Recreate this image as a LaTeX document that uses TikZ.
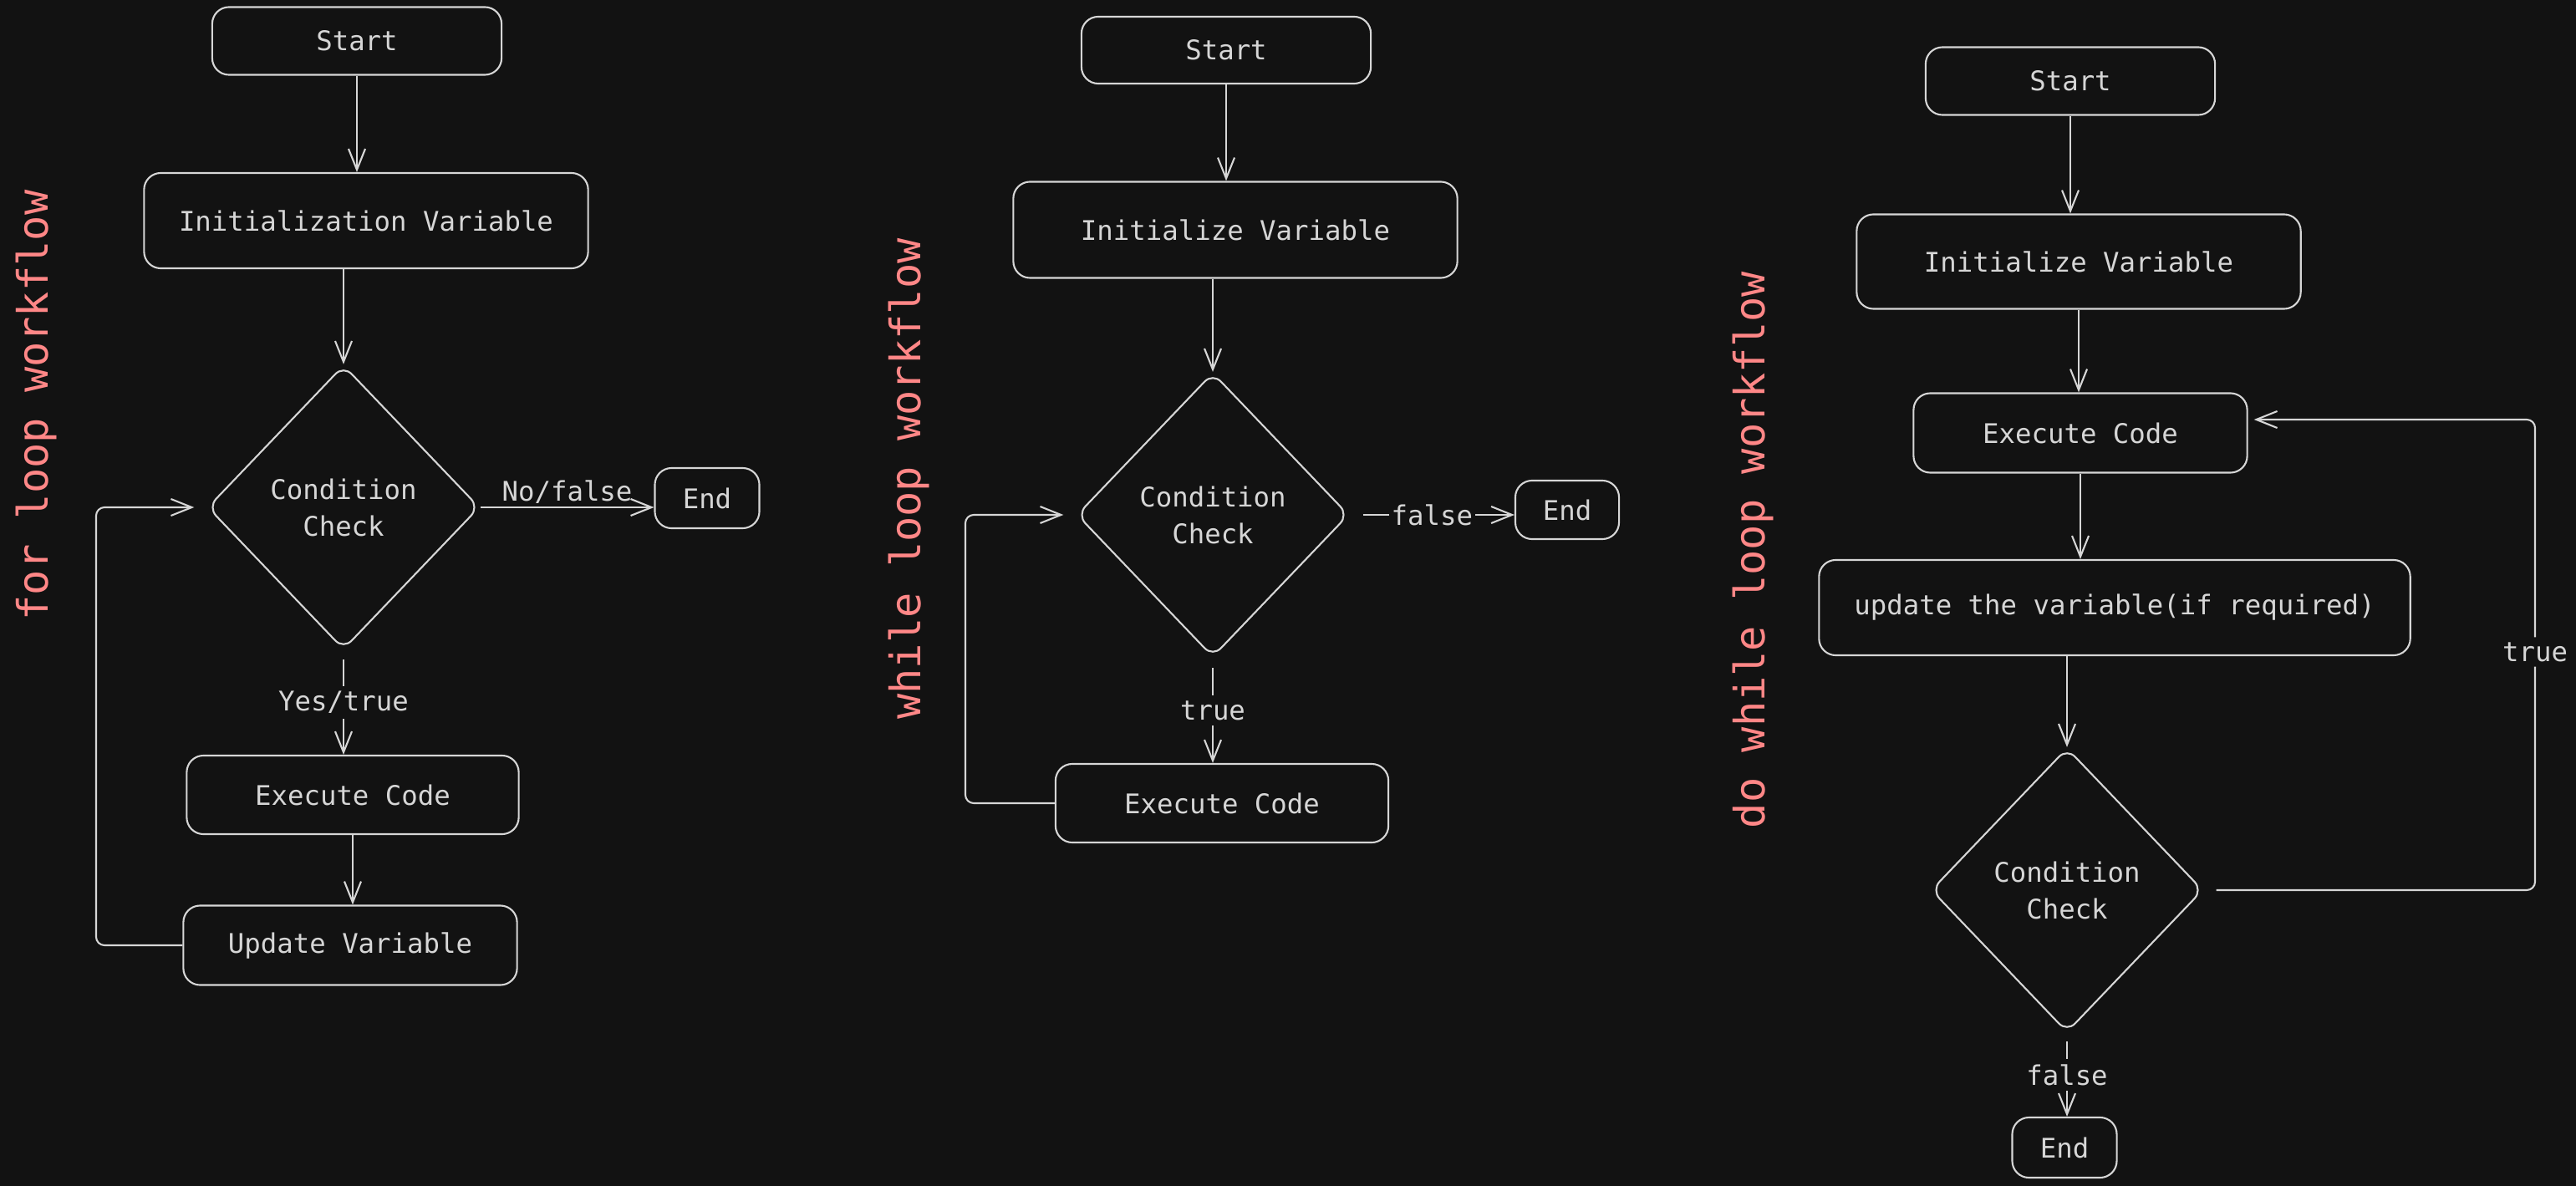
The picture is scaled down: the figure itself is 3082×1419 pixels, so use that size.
\documentclass[tikz,border=0pt]{standalone}
\usepackage{fontspec}
\setmonofont{DejaVu Sans Mono}
\usepackage{tikz}
\usetikzlibrary{shapes.geometric, arrows.meta, positioning}

\definecolor{bg}{HTML}{121212}
\definecolor{ink}{HTML}{D6D6D6}
\definecolor{salmon}{HTML}{FF8787}
\newcommand{\flowfont}{\ttfamily\fontsize{9.2}{12.5}\selectfont}
\newcommand{\titlefont}{\ttfamily\fontsize{14.3}{17}\selectfont}

\tikzset{
  box/.style 2 args={draw=ink, line width=0.6pt, rounded corners=0.2cm, text=ink,
    font=\flowfont, inner sep=0pt, minimum width=#1, minimum height=#2},
  decision/.style={diamond, draw=ink, line width=0.6pt, rounded corners=0.14cm, text=ink,
    font=\flowfont, align=center, inner sep=0pt, minimum width=3.25cm, minimum height=3.4cm},
  flow/.style={draw=ink, line width=0.6pt, -{Straight Barb[length=0.25cm, width=0.2cm]}},
  lbl/.style={fill=bg, text=ink, font=\flowfont, inner sep=0.06cm},
  title/.style={text=salmon, font=\titlefont, rotate=90}
}

\begin{document}
\begin{tikzpicture}[x=0.01cm, y=-0.01cm]
  \fill[bg] (0,0) rectangle (3082,1419);
  \useasboundingbox (0,0) rectangle (3082,1419);

  \foreach \x/\y/\t [count=\i] in {43/485/for loop workflow,
                                   1087/573/while loop workflow,
                                   2097/658/do while loop workflow}
    \node[title] (title\i) at (\x,\y) {\t};

  % for loop
  \node[box={3.46cm}{0.81cm}] (start1) at (427,49) {Start};
  \node[box={5.31cm}{1.14cm}] (init1) at (438,264) {Initialization Variable};
  \node[decision] (cond1) at (411,607) {Condition\\Check};
  \node[box={1.25cm}{0.72cm}] (end1) at (846,596) {End};
  \node[box={3.97cm}{0.94cm}] (exec1) at (422,951) {Execute Code};
  \node[box={3.99cm}{0.95cm}] (upd1) at (419,1131) {Update Variable};
  \coordinate (loop1) at (115,1131);

  \draw[flow] (start1) -- (start1 |- init1.north);
  \draw[flow] (init1.south -| cond1) -- (cond1);
  \draw[flow] (cond1.east) -- node[above, lbl, fill=none, inner sep=1pt] {No/false} (cond1.east -| end1.west);
  \draw[flow, shorten <=0.11cm] (cond1) -- node[lbl] {Yes/true} (cond1 |- exec1.north);
  \draw[flow] (exec1) -- (exec1 |- upd1.north);
  \draw[flow, rounded corners=0.1cm, shorten >=0.15cm] (upd1.west) -- (loop1) |- (cond1.west);

  % while loop
  \node[box={3.46cm}{0.80cm}] (start2) at (1467,60) {Start};
  \node[box={5.31cm}{1.15cm}] (init2) at (1478,275) {Initialize Variable};
  \node[decision] (cond2) at (1451,616) {Condition\\Check};
  \node[box={1.24cm}{0.70cm}] (end2) at (1875,610) {End};
  \node[box={3.98cm}{0.94cm}] (exec2) at (1462,961) {Execute Code};
  \coordinate (loop2) at (1155,961);

  \draw[flow] (start2) -- (start2 |- init2.north);
  \draw[flow] (init2.south -| cond2) -- (cond2);
  \draw[flow, shorten <=0.16cm] (cond2.east) -- node[lbl, inner xsep=0.03cm] {false} (cond2.east -| end2.west);
  \draw[flow, shorten <=0.12cm] (cond2) -- node[lbl] {true} (cond2 |- exec2.north);
  \draw[flow, rounded corners=0.1cm, shorten >=0.15cm] (exec2.west) -- (loop2) |- (cond2.west);

  % do while loop
  \node[box={3.46cm}{0.81cm}] (start3) at (2477,97) {Start};
  \node[box={5.31cm}{1.13cm}] (init3) at (2487,313) {Initialize Variable};
  \node[box={3.99cm}{0.95cm}] (exec3) at (2489,518) {Execute Code};
  \node[box={7.07cm}{1.14cm}] (upd3) at (2530,727) {update the variable(if required)};
  \node[decision] (cond3) at (2473,1065) {Condition\\Check};
  \node[box={1.25cm}{0.72cm}] (end3) at (2470,1373) {End};
  \coordinate (true3) at (3033,780);

  \draw[flow] (start3) -- (start3 |- init3.north);
  \draw[flow] (init3) -- (init3 |- exec3.north);
  \draw[flow] (exec3) -- (exec3 |- upd3.north);
  \draw[flow] (upd3.south -| cond3) -- (cond3);
  \draw[flow, shorten <=0.1cm] (cond3) -- node[lbl] {false} (cond3 |- end3.north);
  \draw[flow, rounded corners=0.1cm, shorten <=0.15cm, shorten >=0.07cm]
    (cond3.east) -| (true3) node[lbl] {true} |- ([yshift=0.16cm]exec3.east);
\end{tikzpicture}
\end{document}
